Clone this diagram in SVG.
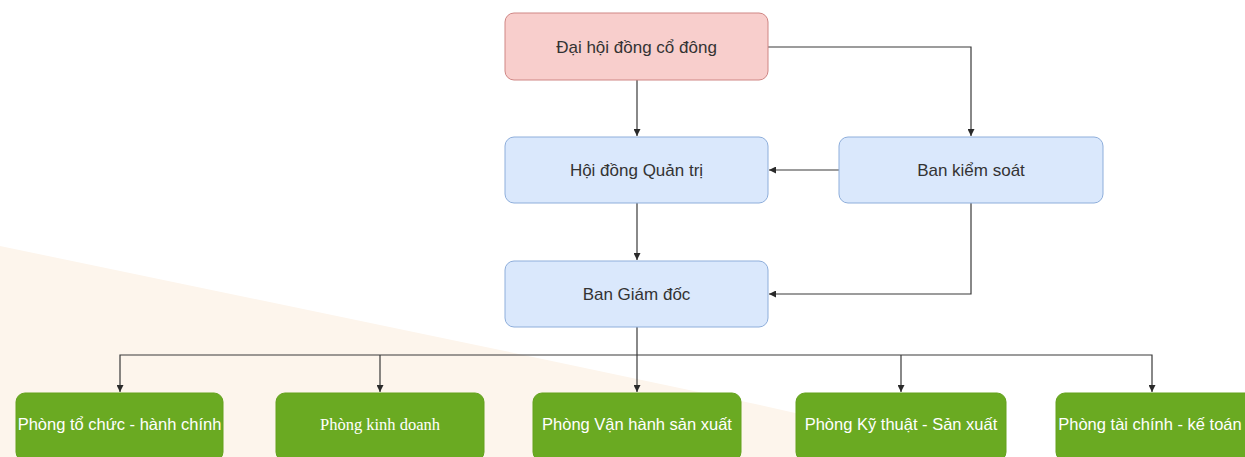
<svg xmlns="http://www.w3.org/2000/svg" width="1245" height="457" viewBox="0 0 1245 457">
  <defs>
    <style>
      .top { fill: #f8cecc; stroke: #cf8684; stroke-width: 1; }
      .blue { fill: #dae8fc; stroke: #8eaedb; stroke-width: 1; }
      .green { fill: #6aaa22; stroke: #64a21d; stroke-width: 1; }
      .lbl { font-family: "Liberation Sans", Arial, sans-serif; font-size: 17px; fill: #333333; text-anchor: middle; dominant-baseline: central; }
      .glbl { font-family: "Liberation Sans", Arial, sans-serif; font-size: 16.5px; fill: #ffffff; text-anchor: middle; dominant-baseline: central; }
      .serif { font-family: "Liberation Serif", "Times New Roman", serif; font-size: 16.5px; }
      .edge { fill: none; stroke: #3a3a3a; stroke-width: 1.2; marker-end: url(#arr); }
    </style>
    <marker id="arr" viewBox="0 0 10 10" refX="10" refY="5" markerWidth="7" markerHeight="7" markerUnits="userSpaceOnUse" orient="auto">
      <path d="M0,0 L10,5 L0,10 Z" fill="#2a2a2a"/>
    </marker>
  </defs>
  <rect x="0" y="0" width="1245" height="457" fill="#ffffff"/>
  <polygon points="0,246 500,350 760,405 990,457 0,457" fill="#fdf5ec"/>

  <g id="connectors">
    <path class="edge" d="M637,80 L637,136"/>
    <path class="edge" d="M768,47 L971,47 L971,136"/>
    <path class="edge" d="M839,170 L769,170"/>
    <path class="edge" d="M637,203 L637,260"/>
    <path class="edge" d="M971,203 L971,294 L769,294"/>
    <path class="edge" d="M637,327 L637,392"/>
    <path class="edge" d="M637,355 L120,355 L120,392"/>
    <path class="edge" d="M380,355 L380,392"/>
    <path class="edge" d="M637,355 L1152,355 L1152,392"/>
    <path class="edge" d="M901,355 L901,392"/>
  </g>

  <g id="node-dai-hoi">
    <rect class="top" x="505" y="13" width="263" height="67" rx="9"/>
    <text class="lbl" x="636.5" y="47">Đại hội đồng cổ đông</text>
  </g>
  <g id="node-hdqt">
    <rect class="blue" x="505" y="137" width="263" height="66" rx="9"/>
    <text class="lbl" x="636.5" y="170">Hội đồng Quản trị</text>
  </g>
  <g id="node-bks">
    <rect class="blue" x="839" y="137" width="264" height="66" rx="9"/>
    <text class="lbl" x="971" y="170">Ban kiểm soát</text>
  </g>
  <g id="node-bgd">
    <rect class="blue" x="505" y="261" width="263" height="66" rx="9"/>
    <text class="lbl" x="636.5" y="294">Ban Giám đốc</text>
  </g>
  <g id="node-to-chuc">
    <rect class="green" x="16" y="393" width="207" height="68" rx="9"/>
    <text class="glbl" x="119.5" y="424">Phòng tổ chức - hành chính</text>
  </g>
  <g id="node-kinh-doanh">
    <rect class="green" x="276" y="393" width="208" height="68" rx="9"/>
    <text class="glbl serif" x="380" y="424">Phòng kinh doanh</text>
  </g>
  <g id="node-van-hanh">
    <rect class="green" x="533" y="393" width="208" height="68" rx="9"/>
    <text class="glbl" x="637" y="424">Phòng Vận hành sản xuất</text>
  </g>
  <g id="node-ky-thuat">
    <rect class="green" x="796" y="393" width="210" height="68" rx="9"/>
    <text class="glbl" x="901" y="424">Phòng Kỹ thuật - Sản xuất</text>
  </g>
  <g id="node-tai-chinh">
    <rect class="green" x="1056" y="393" width="200" height="68" rx="9"/>
    <text class="glbl" x="1150" y="424">Phòng tài chính - kế toán</text>
  </g>
</svg>
